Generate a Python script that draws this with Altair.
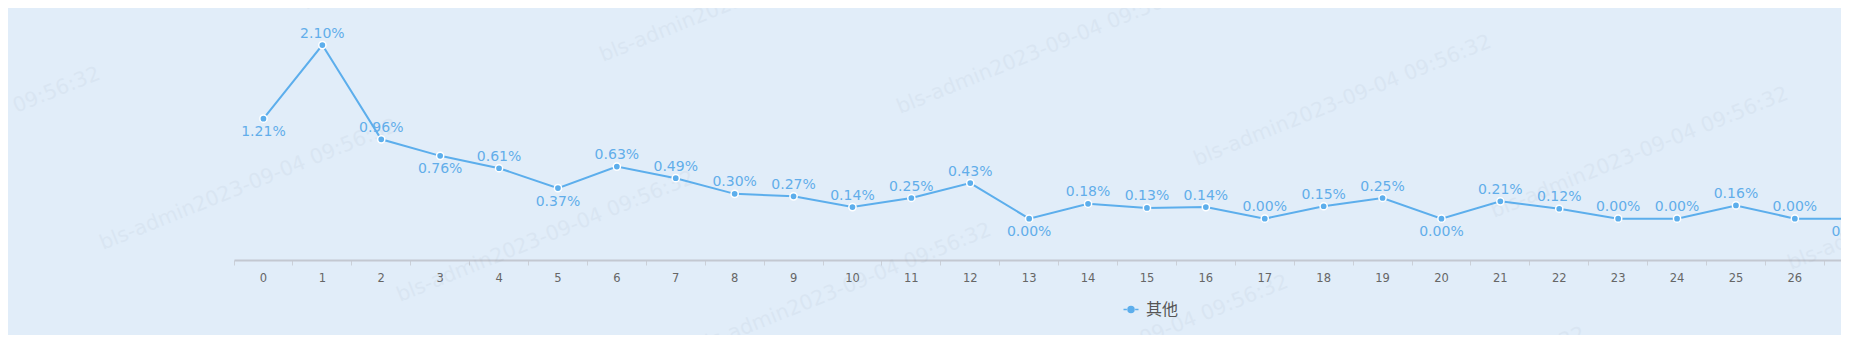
import altair as alt
import pandas as pd

# ---------------- data ----------------
categories = ["0", "1", "2", "3", "4", "5", "6", "7", "8", "9", "10", "11", "12", "13",
              "14", "15", "16", "17", "18", "19", "20", "21", "22", "23", "24", "25", "26", "27"]
values = [1.21, 2.10, 0.96, 0.76, 0.61, 0.37, 0.63, 0.49, 0.30, 0.27, 0.14, 0.25, 0.43, 0.00,
          0.18, 0.13, 0.14, 0.00, 0.15, 0.25, 0.00, 0.21, 0.12, 0.00, 0.00, 0.16, 0.00, 0.00]
series_name = "其他"
labels_below = ["0", "3", "5", "13", "20", "27"]
watermark_text = "bls-admin2023-09-04 09:56:32"

# ---------------- style / layout ----------------
LINE = "#5caeec"
LABEL = "#62adea"
BG = "#e1edf9"
PAD_L, PAD_T, PAD_B = 226, 4, 75
VIEW_W, VIEW_H = 1607, 248
STEP = 58.9

df = pd.DataFrame({"cat": categories, "value": values})
df["series"] = series_name
df["below"] = df["cat"].isin(labels_below)

# tiled watermark positions (view coordinates)
wm_rows = []
for j in range(-2, 3):
    for i in range(-2, 8):
        px = 306 + 297 * i - 203 * j
        py = 10 + 52 * i + 240 * j
        if -380 < px < 1860 and -20 < py < 470:
            wm_rows.append({"wx": px - 8 - PAD_L, "wy": py - 8 - PAD_T, "wm": watermark_text})
wm_df = pd.DataFrame(wm_rows)

x = alt.X(
    "cat:N", sort=categories, title=None,
    scale=alt.Scale(type="band", range=[0, STEP * len(categories)], paddingInner=0, paddingOuter=0),
    axis=alt.Axis(bandPosition=0, domainColor="#c3c8d1", domainWidth=2, tickColor="#cbd0d8",
                  tickSize=5, tickWidth=1, labelAngle=0, labelColor="#666666",
                  labelFont="DejaVu Sans", labelFontSize=11.5, labelPadding=7, grid=False,
                  labelOverlap=False),
)
y = alt.Y("value:Q", title=None,
          scale=alt.Scale(domain=[-0.5, 2.5], nice=False, zero=False), axis=None)

base = alt.Chart(df).transform_calculate(label="format(datum.value, '.2f') + '%'")

wm = alt.Chart(wm_df).mark_text(
    angle=338, align="left", baseline="alphabetic", font="DejaVu Sans", fontSize=20.5,
    color="#7a8a9c", opacity=0.07,
).encode(x=alt.X("wx:Q", scale=None), y=alt.Y("wy:Q", scale=None), text="wm:N")

line = base.mark_line(color=LINE, strokeWidth=2).encode(x=x, y=y)

points = base.mark_point(filled=True, size=52, stroke="white", strokeWidth=1.5, opacity=1).encode(
    x=x, y=y,
    color=alt.Color(
        "series:N", scale=alt.Scale(range=[LINE]),
        legend=alt.Legend(
            title=None, orient="none", legendX=888.5, legendY=289, padding=0,
            symbolType="M-1,0L-0.55,0M0.55,0L1,0M-0.4,0A0.4,0.4,0,1,0,0.4,0A0.4,0.4,0,1,0,-0.4,0Z",
            symbolSize=225, symbolStrokeColor=LINE, symbolFillColor=LINE, symbolStrokeWidth=1.5,
            symbolOpacity=1, labelFont="Noto Sans CJK SC", labelFontSize=16,
            labelColor="#555555", labelOffset=6.5,
        ),
    ),
)

labels_up = base.transform_filter("!datum.below").mark_text(
    dy=-11.5, font="DejaVu Sans", fontSize=14, color=LABEL
).encode(x=x, y=y, text="label:N")

labels_down = base.transform_filter("datum.below").mark_text(
    dy=13.5, font="DejaVu Sans", fontSize=14, color=LABEL
).encode(x=x, y=y, text="label:N")

chart = alt.layer(wm, line, points, labels_up, labels_down).properties(
    width=VIEW_W, height=VIEW_H,
    padding={"left": PAD_L, "top": PAD_T, "right": 0, "bottom": PAD_B},
    autosize=alt.AutoSizeParams(type="none"),
    background=BG,
).configure_view(stroke=None)

chart.save("out.html", embed_options={"renderer": "svg", "actions": False})
